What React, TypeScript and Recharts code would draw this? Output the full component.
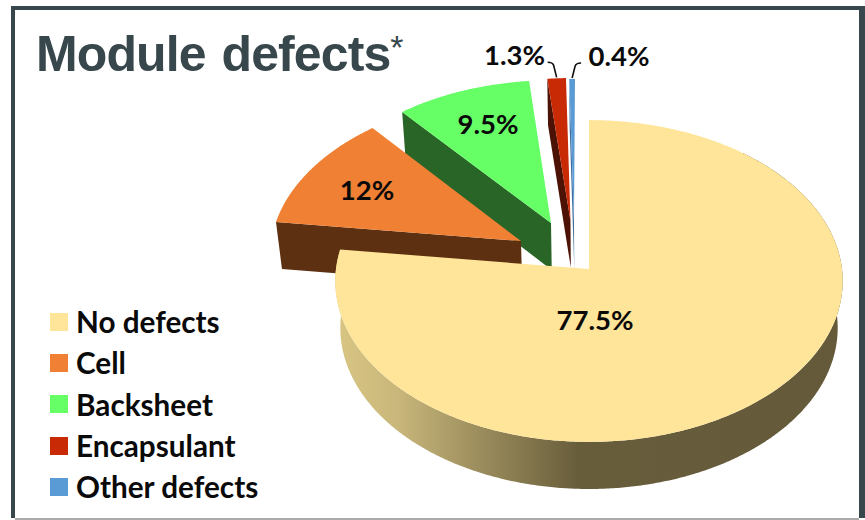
import { PieChart, Pie, Legend } from 'recharts'

const categories = ['No defects', 'Cell', 'Backsheet', 'Encapsulant', 'Other defects']
const shares = [77.5, 12, 9.5, 1.3, 0.4]
const shareLabels = ['77.5%', '12%', '9.5%', '1.3%', '0.4%']
const topColors = ['#FFE599', '#F08033', '#66FF66', '#C82A05', '#5B9BD5']
const wallColors = ['url(#mainWall)', '#5E3012', '#2A6528', '#4D1206', '#3F6E9C']

// how far each slice is pulled out of the pie, in units of the radius (x, y on the pie plane)
const explode = [[0, 0], [-0.2725, 0.1773], [-0.1535, 0.2938], [-0.075, 0.31], [-0.0607, 0.303]]
// label position relative to the slice tip, px
const labelOffsets = [[6, 50], [-154, -52], [-63, -99], [-56, -166], [45, -166]]

const rows = categories.map((category, i) => ({ category, value: shares[i], idx: i })).reverse()

// 3d look of the pie
const SQUASH = 160 / 253
const TILT = 0.0745
const DROP = 48 / 253
const SHRINK = 0.02

const project = (p: any, u: number, v: number, z: number) => {
  const w = 1 + TILT * v + SHRINK * z
  const r = p.outerRadius
  return [p.cx + (r * u) / w, p.cy - (r * SQUASH * v - r * DROP * z) / w]
}

const rimPoint = (p: any, idx: number, t: number, z: number) => {
  const rad = (t * Math.PI) / 180
  return project(p, Math.sin(rad) + explode[idx][0], Math.cos(rad) + explode[idx][1], z)
}

const tipPoint = (p: any, idx: number, z: number) => project(p, explode[idx][0], explode[idx][1], z)

const arc = (p: any, idx: number, from: number, to: number, z: number) => {
  const pts = []
  const steps = Math.max(2, Math.ceil(Math.abs(to - from) * 2))
  for (let i = 0; i <= steps; i++) pts.push(rimPoint(p, idx, from + ((to - from) * i) / steps, z))
  return pts
}

const toPath = (pts: number[][]) => 'M' + pts.map((q) => q[0].toFixed(2) + ' ' + q[1].toFixed(2)).join('L') + 'Z'

const getAngles = (p: any) => {
  let from = 90 - p.endAngle
  let to = 90 - p.startAngle
  if (from < 0) {
    from += 360
    to += 360
  }
  return [from, to]
}

function Slice3D(props: any) {
  const idx = props.payload?.idx ?? props.idx
  const [from, to] = getAngles(props)
  const top = [tipPoint(props, idx, 0), ...arc(props, idx, from, to, 0)]
  let wall
  if (idx === 0) {
    wall = [...arc(props, idx, 40, to, 0), ...arc(props, idx, to, 40, 1)]
  } else {
    wall = [
      tipPoint(props, idx, 0),
      rimPoint(props, idx, from, 0),
      rimPoint(props, idx, from, 1),
      tipPoint(props, idx, 1),
    ]
  }
  return (
    <g>
      <defs>
        <linearGradient id="mainWall" gradientUnits="userSpaceOnUse" x1="336" y1="0" x2="842" y2="0">
          <stop offset="0" stopColor="#D9C684" />
          <stop offset="0.12" stopColor="#C9B77B" />
          <stop offset="0.3" stopColor="#97895A" />
          <stop offset="0.48" stopColor="#685D3B" />
          <stop offset="1" stopColor="#645A3A" />
        </linearGradient>
      </defs>
      <path d={toPath(wall)} fill={wallColors[idx]} />
      <path d={toPath(top)} fill={topColors[idx]} />
    </g>
  )
}

function SliceLabel(props: any) {
  const idx = props.payload?.idx ?? props.idx
  const tip = tipPoint(props, idx, 0)
  const [from, to] = getAngles(props)
  const rim = rimPoint(props, idx, (from + to) / 2, 0)
  const hook = idx === 3 ? -1 : 1
  return (
    <g>
      {idx >= 3 && (
        <path
          d={`M${rim[0]} ${rim[1] - 1}L${rim[0] + hook * 3} ${rim[1] - 13}Q${rim[0] + hook * 4} ${rim[1] - 16} ${rim[0] + hook * 9} ${rim[1] - 16}`}
          fill="none"
          stroke="#111"
          strokeWidth={1.6}
        />
      )}
      <text
        x={tip[0] + labelOffsets[idx][0]}
        y={tip[1] + labelOffsets[idx][1]}
        textAnchor="middle"
        dominantBaseline="central"
        fontFamily="Lato"
        fontWeight={700}
        fontSize={27.5}
        fill="#0a0a0a"
      >
        {shareLabels[idx]}
      </text>
    </g>
  )
}

function LegendList() {
  return (
    <div>
      {categories.map((c, i) => (
        <div key={c} style={{ display: 'flex', alignItems: 'center', height: 41.3, fontFamily: 'Lato', fontWeight: 700, fontSize: 29.7, color: '#0a0a0a', whiteSpace: 'nowrap' }}>
          <span style={{ width: 18, height: 18, background: topColors[i], marginRight: 8, flex: 'none' }} />
          {c}
        </div>
      ))}
    </div>
  )
}

export default function App() {
  return (
    <div style={{ position: 'absolute', left: 0, top: 0, width: 865, height: 520, background: '#fff', overflow: 'hidden' }}>
      <div style={{ position: 'absolute', left: 11, top: 6, width: 854, height: 600, border: '4px solid #37474B', boxSizing: 'border-box', borderRightWidth: 6 }} />
      <div style={{ position: 'absolute', left: 0, top: 518, width: 865, height: 2, background: '#fff' }} />
      <div style={{ position: 'absolute', left: 15, top: 518, width: 844, height: 2, background: '#aaa' }} />
      <div style={{ position: 'absolute', left: 36, top: 17, fontFamily: 'Liberation Sans', fontWeight: 700, fontSize: 50, letterSpacing: -0.9, color: '#37474B', whiteSpace: 'pre', lineHeight: '60px', wordSpacing: 3 }}>
        Module defects<span style={{ fontWeight: 400, fontSize: 34, letterSpacing: 0, verticalAlign: 12 }}>*</span>
      </div>
      <div style={{ position: 'absolute', left: 0, top: 0 }}>
        <PieChart width={865} height={520} margin={{ top: 0, right: 0, bottom: 0, left: 0 }}>
          <Pie
            data={rows}
            dataKey="value"
            nameKey="category"
            cx={589}
            cy={269}
            outerRadius={253}
            startAngle={90}
            endAngle={450}
            stroke="none"
            isAnimationActive={false}
            shape={Slice3D}
            label={SliceLabel}
            labelLine={false}
          />
          <Legend
            layout="horizontal"
            align="center"
            verticalAlign="middle"
            content={LegendList}
            wrapperStyle={{ left: 50, top: 301, width: 260 }}
          />
        </PieChart>
      </div>
    </div>
  )
}
